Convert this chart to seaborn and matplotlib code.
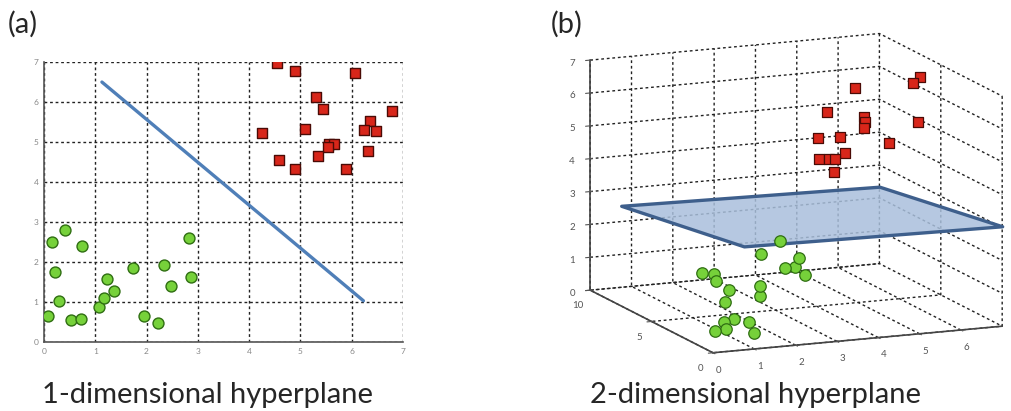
import numpy as np
import matplotlib
matplotlib.use("Agg")
import matplotlib.pyplot as plt
import seaborn as sns
from mpl_toolkits.mplot3d.art3d import Poly3DCollection

# --- panel (a): 2D data ---
green_x = [0.07, 0.15, 0.41, 0.74, 0.22, 0.29, 0.52, 0.72, 1.07, 1.18,
           1.22, 1.36, 1.73, 1.95, 2.22, 2.35, 2.47, 2.83, 2.86]
green_y = [0.64, 2.50, 2.79, 2.40, 1.75, 1.03, 0.54, 0.58, 0.88, 1.11,
           1.58, 1.28, 1.85, 0.66, 0.48, 1.92, 1.40, 2.61, 1.62]
red_x = [4.55, 4.89, 6.06, 5.30, 5.45, 6.78, 4.25, 5.10, 6.36, 6.25,
         6.47, 5.56, 5.66, 5.53, 5.34, 6.32, 4.58, 4.89, 5.89]
red_y = [6.97, 6.77, 6.73, 6.13, 5.82, 5.78, 5.22, 5.33, 5.52, 5.29,
         5.28, 4.94, 4.96, 4.88, 4.65, 4.77, 4.56, 4.33, 4.33]
line_x = [1.13, 6.23]
line_y = [6.50, 1.03]

# --- panel (b): 3D data ---
red3_x = [5.22, 6.04, 6.36, 4.24, 5.43, 5.31, 5.13, 5.86, 4.63, 4.86, 4.86, 4.67, 4.65, 4.59, 4.43, 4.11]
red3_y = [6, 4, 4.5, 5, 6, 5.5, 5, 3, 7, 6, 2, 5, 7, 6, 5, 4]
red3_z = [6.32, 6.76, 6.79, 5.88, 5.41, 5.35, 5.30, 5.78, 4.67, 4.85, 5.43, 4.60, 4.03, 4.22, 4.42, 4.25]
green3_x = [3.40, 2.64, 3.56, 3.22, 3.77, 3.41, 1.52, 1.81, 1.56, 1.87,
            2.04, 2.04, 1.47, 1.11, 0.85, 1.32, 0.50, 0.77, 1.29]
green3_y = [6, 5, 5, 5, 6, 4, 6, 6, 5, 5, 3, 3, 4, 2, 2, 1.5, 1.5, 1.5, 1]
green3_z = [1.85, 1.74, 1.53, 1.24, 1.02, 1.22, 1.10, 1.03, 1.04, 0.75,
            1.22, 0.91, 0.62, 0.52, 0.46, 0.51, 0.31, 0.34, 0.25]
plane_x = [0.75, 7.0, 7.0, 0.75]
plane_y = [0.0, 0.0, 10.0, 10.0]
plane_z = [3.15, 3.04, 2.34, 2.48]

captions = ["1-dimensional hyperplane", "2-dimensional hyperplane"]
panel_tags = ["(a)", "(b)"]

sns.set_style("white")
plt.rcParams["font.family"] = ["Lato", "DejaVu Sans"]
plt.rcParams["grid.color"] = "#222222"
plt.rcParams["grid.linestyle"] = (0, (2, 2))
plt.rcParams["grid.linewidth"] = 1.0

green_face = "#76d13a"
green_edge = "#2f6e12"
red_face = "#d8261a"
red_edge = "#4a0b06"
line_blue = "#4f7fb8"

fig = plt.figure(figsize=(10.11, 4.11), dpi=100)

# ---------- (a) ----------
ax = fig.add_axes([0.0435, 0.168, 0.355, 0.681])
sns.lineplot(x=line_x, y=line_y, ax=ax, color=line_blue, linewidth=2.4, zorder=2)
sns.scatterplot(x=green_x, y=green_y, ax=ax, marker="o", s=62,
                color=green_face, edgecolor=green_edge, linewidth=1.0, zorder=3)
sns.scatterplot(x=red_x, y=red_y, ax=ax, marker="s", s=62,
                color=red_face, edgecolor=red_edge, linewidth=1.0, zorder=3)
ax.set_xlim(0, 7)
ax.set_ylim(0, 7)
ax.set_xticks(range(8))
ax.set_yticks(range(8))
ax.grid(True)
for s in ["top", "right"]:
    ax.spines[s].set_visible(False)
for s in ["left", "bottom"]:
    ax.spines[s].set_color("#555555")
    ax.spines[s].set_linewidth(1.2)
ax.tick_params(labelsize=6, colors="#888888", length=2, pad=2)
ax.set_axisbelow(True)

# ---------- (b) ----------
ax3 = fig.add_axes([0.473, -0.08, 0.616, 1.188], projection="3d", proj_type="ortho")
ax3.computed_zorder = False
ax3.view_init(elev=12.5, azim=-113)
verts = [list(zip(plane_x, plane_y, plane_z))]
ax3.add_collection3d(Poly3DCollection(verts, facecolor="#a9bfdc", edgecolor="#3e5f8c",
                                      linewidth=2.4, alpha=0.85, zorder=1))
ax3.scatter(green3_x, green3_y, green3_z, marker="o", s=68, c=green_face,
            edgecolors=green_edge, linewidths=0.9, depthshade=False, zorder=2)
ax3.scatter(red3_x, red3_y, red3_z, marker="s", s=62, c=red_face,
            edgecolors=red_edge, linewidths=0.9, depthshade=False, zorder=2)
ax3.set_xlim(0, 7)
ax3.set_ylim(0, 10)
ax3.set_zlim(0, 7)
ax3.set_xticks(range(7))
ax3.set_yticks([0, 5, 10])
ax3.set_zticks(range(8))
for a in (ax3.xaxis, ax3.yaxis, ax3.zaxis):
    a.set_pane_color((1, 1, 1, 0))
    a.pane.set_edgecolor("none")
    a.line.set_color("#444444")
    a.line.set_linewidth(1.2)
ax3.tick_params(labelsize=7, colors="#555555", pad=0)

# ---------- text ----------
fig.text(0.008, 0.92, panel_tags[0], fontsize=21, va="baseline")
fig.text(0.545, 0.92, panel_tags[1], fontsize=21, va="baseline")
fig.text(0.205, 0.0195, captions[0], fontsize=21, ha="center", va="baseline")
fig.text(0.7475, 0.0195, captions[1], fontsize=21, ha="center", va="baseline")

fig.savefig("out.png", dpi=100)
